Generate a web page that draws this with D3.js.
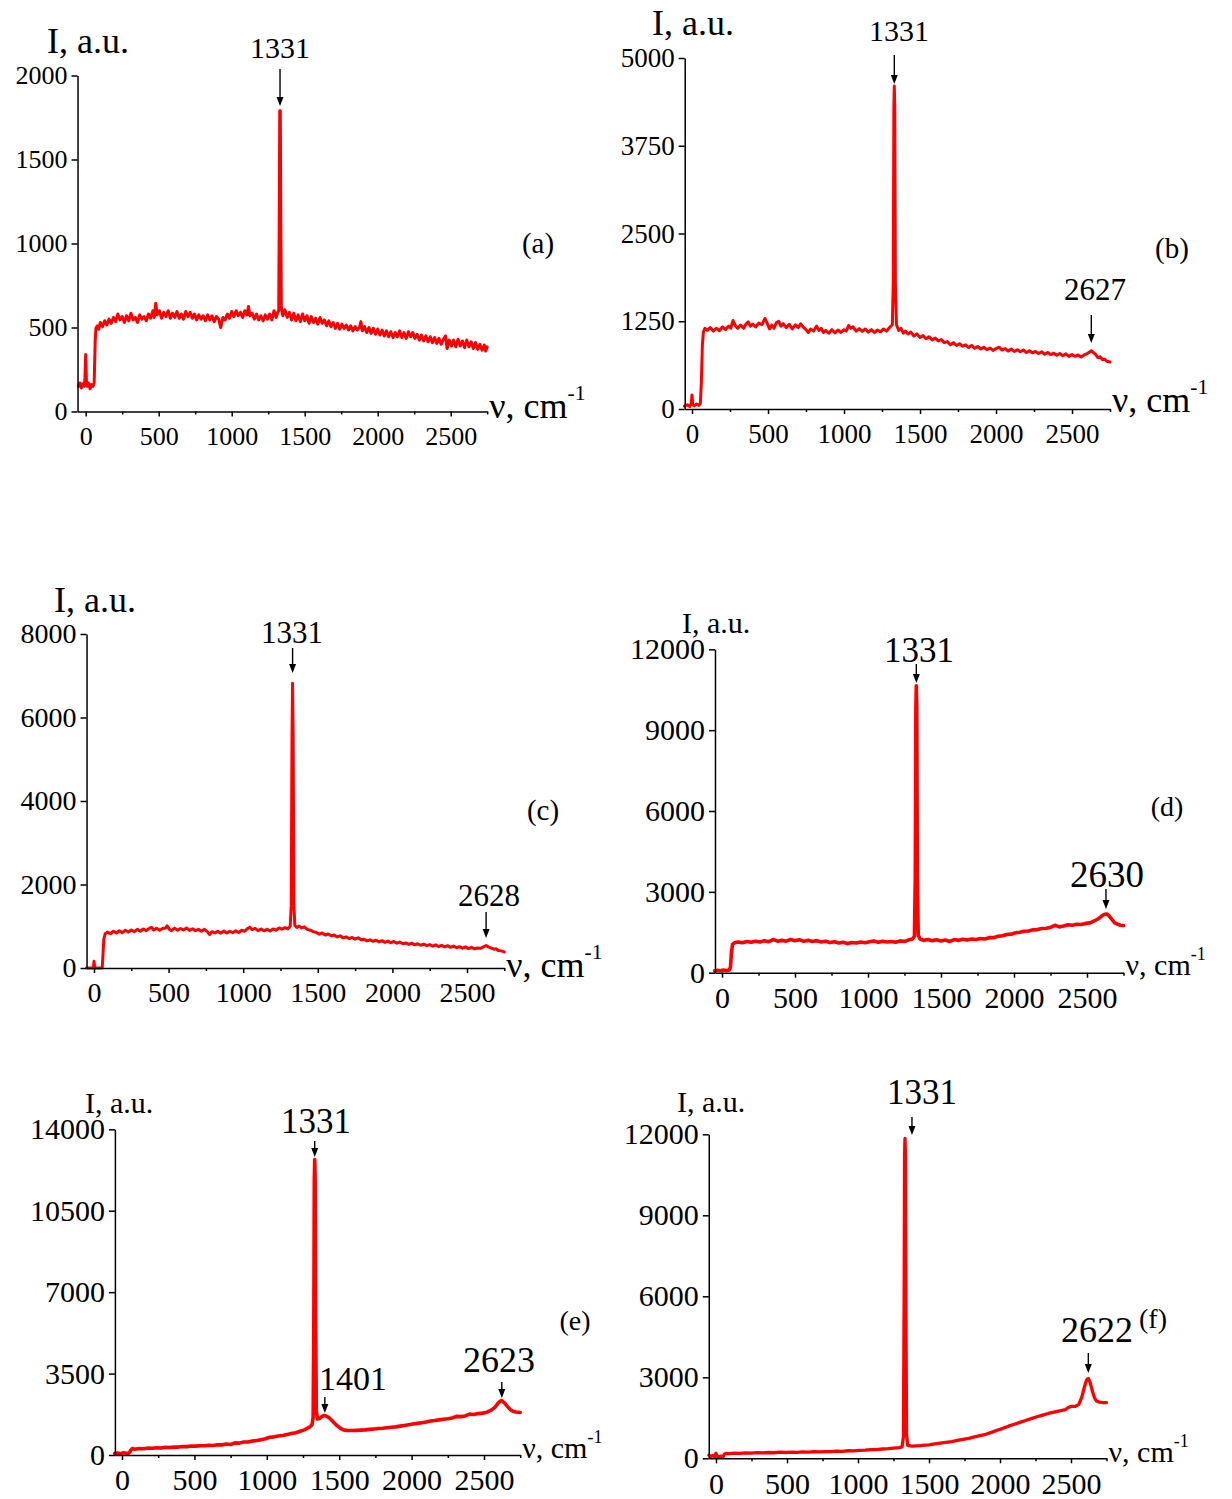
<!DOCTYPE html>
<html><head><meta charset="utf-8">
<script src="https://cdn.jsdelivr.net/npm/d3@7"></script>
<style>
body{margin:0;background:#fff}
svg{display:block}
text{font-family:"Liberation Serif","Times New Roman",serif;fill:#000}
</style>
</head><body>
<svg id="chart" width="1232" height="1499"></svg>
<script>
// ---------------- DATA ----------------
const xTicks = [0, 500, 1000, 1500, 2000, 2500];
const xMinorTicks = [250, 750, 1250, 1750, 2250, 2750];
const yTicksA = [0, 500, 1000, 1500, 2000];
const yTicksB = [0, 1250, 2500, 3750, 5000];
const yTicksC = [0, 2000, 4000, 6000, 8000];
const yTicksD = [0, 3000, 6000, 9000, 12000];
const yTicksE = [0, 3500, 7000, 10500, 14000];
const yTicksF = [0, 3000, 6000, 9000, 12000];
const panelLabels = ["(a)", "(b)", "(c)", "(d)", "(e)", "(f)"];
const yTitleText = "I, a.u.";
const xTitleText = "\u03BD, cm";
const xTitleSup = "-1";

const peaksA = [{label: "1331", at: 1331}];
const peaksB = [{label: "1331", at: 1331}, {label: "2627", at: 2627}];
const peaksC = [{label: "1331", at: 1331}, {label: "2628", at: 2628}];
const peaksD = [{label: "1331", at: 1331}, {label: "2630", at: 2630}];
const peaksE = [{label: "1331", at: 1331}, {label: "1401", at: 1401}, {label: "2623", at: 2623}];
const peaksF = [{label: "1331", at: 1380}, {label: "2622", at: 2622}];

// spectra: [wavenumber cm-1, intensity a.u.]
const specA = [[-50,150],[-40,170],[-30,140],[-20,165],[-10,150],[-5,200],[0,340],[5,180],[10,150],[20,170],[30,135],[40,160],[50,150],[58,170],[65,420],[70,495],[80,510],[90,490],
[100,530],[115,505],[130,540],[145,515],[160,550],[175,525],[190,560],[205,535],[220,580],[235,545],[250,565],[265,530],[280,570],[295,540],[310,585],[325,545],[340,560],[355,530],[370,575],[385,550],[400,565],[415,540],[430,580],[445,555],[460,600],[470,560],[480,645],[490,575],[505,600],[520,555],[535,590],[550,565],[565,600],[580,555],[595,585],[610,560],[625,595],[640,555],[655,580],[670,550],[685,595],[700,565],[715,590],[730,555],[745,580],[760,545],[775,575],[790,550],[805,570],[820,540],[835,575],[850,545],[865,570],[880,535],[895,565],[910,550],[925,500],[940,560],[955,545],[970,580],[985,555],[1000,595],[1015,565],[1030,600],[1045,570],[1060,590],[1075,560],[1090,600],[1105,575],[1115,625],[1125,570],[1140,585],[1155,550],[1170,580],[1185,545],[1200,570],[1215,540],[1230,575],[1245,550],[1260,580],[1275,545],[1290,600],[1305,560],[1315,590],[1322,600],[1326,1200],[1329,1790],[1333,1790],[1336,1200],[1340,620],[1350,570],[1365,605],[1380,560],[1395,590],[1410,545],[1425,585],[1440,540],[1455,575],[1470,535],[1485,580],[1500,540],[1515,570],[1530,525],[1545,565],[1560,530],[1575,555],[1590,520],[1605,560],[1620,525],[1635,545],[1650,510],[1665,540],[1680,505],[1695,530],[1710,495],[1725,525],[1740,490],[1755,520],[1770,495],[1785,515],[1800,485],[1815,510],[1830,480],[1845,505],[1860,485],[1875,500],[1885,535],[1895,480],[1910,505],[1925,470],[1940,500],[1955,465],[1970,495],[1985,460],[2000,490],[2015,455],[2030,485],[2045,450],[2060,480],[2075,445],[2090,475],[2105,440],[2120,470],[2135,445],[2150,480],[2165,440],[2180,470],[2195,435],[2210,475],[2225,445],[2240,470],[2255,435],[2270,460],[2285,425],[2300,455],[2315,420],[2330,450],[2345,415],[2360,445],[2375,410],[2390,440],[2405,405],[2420,435],[2435,400],[2450,430],[2465,450],[2475,375],[2490,425],[2505,390],[2520,425],[2535,385],[2550,430],[2565,390],[2580,420],[2595,380],[2610,425],[2625,385],[2640,415],[2655,375],[2670,410],[2685,370],[2700,400],[2715,365],[2730,395],[2740,360],[2750,385]];

const specB = [[-50,40],[-30,60],[-15,35],[-5,80],[0,200],[5,60],[15,45],[30,70],[45,50],[55,80],[62,400],[68,900],[75,1100],[85,1150],
[100,1120],[120,1160],[140,1110],[160,1150],[180,1115],[200,1170],[220,1130],[240,1180],[255,1150],[270,1260],[285,1190],[300,1150],[320,1195],[340,1150],[355,1210],[370,1240],[385,1180],[400,1210],[420,1170],[440,1225],[460,1200],[480,1290],[495,1220],[510,1140],[525,1195],[540,1150],[555,1230],[570,1250],[585,1180],[600,1215],[620,1160],[640,1205],[660,1140],[680,1200],[700,1160],[715,1215],[730,1170],[750,1130],[765,1090],[780,1140],[800,1110],[820,1180],[835,1120],[850,1150],[865,1090],[880,1120],[900,1080],[920,1130],[940,1085],[960,1125],[980,1090],[1000,1130],[1015,1110],[1030,1190],[1045,1150],[1060,1170],[1080,1110],[1100,1145],[1120,1105],[1140,1140],[1160,1095],[1180,1130],[1200,1090],[1220,1125],[1240,1100],[1260,1140],[1280,1110],[1300,1160],[1318,1200],[1324,1800],[1328,4300],[1331,4600],[1334,4300],[1338,1800],[1345,1200],[1360,1120],[1375,1150],[1390,1080],[1405,1110],[1420,1070],[1440,1095],[1460,1040],[1480,1070],[1500,1020],[1520,1045],[1540,1000],[1560,1030],[1580,985],[1600,1010],[1620,970],[1640,990],[1660,945],[1680,960],[1700,915],[1720,945],[1740,905],[1760,930],[1780,895],[1800,915],[1820,875],[1840,905],[1860,865],[1880,890],[1900,855],[1920,880],[1940,845],[1960,870],[1980,835],[2000,860],[2020,880],[2040,840],[2060,860],[2080,825],[2100,855],[2120,820],[2140,845],[2160,815],[2180,840],[2200,805],[2220,830],[2240,800],[2260,820],[2280,790],[2300,815],[2320,780],[2340,805],[2360,775],[2380,795],[2400,765],[2420,790],[2440,760],[2460,785],[2480,750],[2500,775],[2520,750],[2540,770],[2560,740],[2580,770],[2600,790],[2615,810],[2627,830],[2640,805],[2655,780],[2670,730],[2685,745],[2700,705],[2715,710],[2730,680],[2750,670]];

const specC = [[-50,0],[-20,0],[-8,0],[-3,40],[0,160],[4,40],[8,0],[30,0],[55,0],[60,300],[66,700],[75,820],
[90,860],[110,820],[130,880],[150,840],[170,890],[190,845],[210,905],[230,860],[250,910],[270,870],[290,925],[310,880],[330,935],[350,895],[370,950],[385,975],[400,910],[420,950],[440,905],[460,945],[480,960],[490,1010],[505,930],[520,895],[540,955],[560,905],[580,945],[600,910],[620,960],[640,900],[660,940],[680,895],[700,925],[720,880],[740,925],[760,870],[775,800],[790,870],[810,840],[830,880],[850,835],[870,885],[890,840],[910,880],[930,845],[950,890],[970,850],[990,905],[1010,880],[1030,950],[1045,975],[1060,920],[1080,950],[1100,895],[1120,935],[1140,890],[1160,925],[1180,885],[1200,935],[1220,905],[1240,960],[1260,930],[1280,965],[1300,940],[1315,1000],[1322,1500],[1327,5500],[1331,6820],[1335,5500],[1340,1500],[1346,1020],[1360,970],[1375,1005],[1390,960],[1410,985],[1430,925],[1450,905],[1470,870],[1490,850],[1510,810],[1530,840],[1550,790],[1570,815],[1590,770],[1610,790],[1630,745],[1650,770],[1670,720],[1690,745],[1710,705],[1730,730],[1750,690],[1770,725],[1790,675],[1810,690],[1830,650],[1850,675],[1870,640],[1890,665],[1910,625],[1930,655],[1950,615],[1970,645],[1990,605],[2010,635],[2030,595],[2050,620],[2070,580],[2090,600],[2110,565],[2130,595],[2150,555],[2170,580],[2190,545],[2210,570],[2230,535],[2250,560],[2270,525],[2290,555],[2310,515],[2330,540],[2350,505],[2370,535],[2390,495],[2410,525],[2430,485],[2450,510],[2470,475],[2490,505],[2510,465],[2530,495],[2550,460],[2570,480],[2590,470],[2610,505],[2628,540],[2645,500],[2660,480],[2680,450],[2695,460],[2710,420],[2730,410],[2750,385]];

const specD = [[-50,70],[-30,90],[-10,70],[10,100],[30,80],[50,100],[58,200],[64,700],[72,1050],[85,1110],
[110,1140],[140,1110],[170,1160],[200,1130],[230,1170],[260,1140],[290,1190],[320,1150],[350,1230],[380,1170],[410,1200],[440,1170],[470,1230],[500,1190],[530,1220],[560,1170],[590,1200],[620,1160],[650,1190],[680,1140],[710,1170],[740,1120],[770,1150],[800,1100],[830,1130],[860,1080],[890,1120],[920,1100],[950,1140],[980,1110],[1010,1150],[1040,1180],[1070,1130],[1100,1170],[1130,1140],[1160,1160],[1190,1130],[1220,1180],[1250,1160],[1280,1220],[1305,1250],[1318,1350],[1324,3500],[1328,9800],[1331,10650],[1334,9800],[1338,3500],[1344,1400],[1355,1260],[1380,1200],[1410,1230],[1440,1190],[1470,1220],[1500,1180],[1530,1210],[1560,1160],[1590,1230],[1620,1200],[1650,1240],[1680,1210],[1710,1250],[1740,1230],[1770,1270],[1800,1250],[1830,1300],[1860,1300],[1890,1350],[1920,1370],[1950,1420],[1980,1430],[2010,1480],[2040,1500],[2070,1540],[2100,1550],[2130,1590],[2160,1600],[2190,1640],[2220,1650],[2250,1680],[2280,1760],[2310,1700],[2340,1730],[2370,1780],[2400,1760],[2430,1800],[2460,1790],[2490,1830],[2520,1850],[2550,1920],[2580,2010],[2600,2100],[2620,2170],[2635,2180],[2650,2120],[2670,1980],[2690,1850],[2710,1800],[2730,1760],[2750,1750]];

const specE = [[-50,60],[-30,90],[-10,50],[10,100],[30,70],[50,90],[60,200],[70,280],[90,250],
[120,280],[150,270],[180,300],[210,290],[240,310],[270,300],[300,330],[330,320],[360,345],[390,340],[420,365],[450,360],[480,385],[510,380],[540,400],[570,395],[600,420],[630,410],[660,440],[690,435],[720,470],[750,450],[780,520],[810,510],[840,560],[870,560],[900,600],[930,620],[960,660],[990,700],[1020,760],[1050,780],[1080,820],[1110,840],[1140,880],[1170,920],[1200,960],[1230,1020],[1260,1080],[1280,1150],[1300,1220],[1312,1300],[1320,1600],[1325,6000],[1328,11800],[1331,12700],[1334,11800],[1337,6000],[1342,1900],[1350,1550],[1365,1580],[1380,1650],[1395,1700],[1410,1680],[1430,1600],[1450,1480],[1470,1350],[1490,1240],[1510,1140],[1530,1080],[1560,1050],[1590,1050],[1620,1060],[1650,1070],[1680,1080],[1710,1100],[1740,1120],[1770,1140],[1800,1150],[1830,1170],[1860,1190],[1890,1210],[1920,1240],[1950,1270],[1980,1300],[2010,1330],[2040,1360],[2070,1390],[2100,1420],[2130,1460],[2160,1480],[2190,1510],[2220,1540],[2250,1560],[2280,1590],[2310,1660],[2340,1650],[2370,1680],[2400,1760],[2430,1740],[2460,1780],[2490,1800],[2520,1840],[2550,1930],[2575,2050],[2600,2250],[2620,2340],[2640,2250],[2660,2100],[2680,1960],[2700,1880],[2720,1850],[2750,1830]];

const specF = [[-50,120],[-35,70],[-20,100],[-10,60],[0,190],[8,70],[20,50],[35,80],[50,60],[60,160],[70,180],[90,170],
[130,190],[170,180],[210,200],[250,190],[290,210],[330,200],[370,215],[410,205],[450,225],[490,215],[530,230],[570,220],[610,240],[650,230],[690,245],[730,235],[770,250],[810,245],[850,265],[890,260],[930,280],[970,275],[1010,295],[1050,300],[1090,320],[1130,325],[1170,345],[1210,355],[1250,375],[1290,395],[1310,420],[1320,800],[1325,6000],[1328,11200],[1331,11850],[1334,11200],[1337,6000],[1342,900],[1350,480],[1380,450],[1410,460],[1440,470],[1470,490],[1500,500],[1540,530],[1580,560],[1620,590],[1660,620],[1700,660],[1740,700],[1780,740],[1820,790],[1860,840],[1900,890],[1940,960],[1980,1040],[2020,1110],[2060,1190],[2100,1260],[2140,1330],[2180,1400],[2220,1470],[2260,1540],[2300,1600],[2340,1660],[2380,1710],[2420,1760],[2460,1800],[2480,1880],[2500,1920],[2530,1920],[2555,2000],[2575,2250],[2595,2650],[2610,2900],[2622,2960],[2635,2800],[2650,2500],[2665,2250],[2680,2120],[2700,2080],[2730,2060],[2750,2060]];

// ---------------- LAYOUT ----------------
const panels = [
  {spec: specA, yTicks: yTicksA, peaks: peaksA, label: panelLabels[0], sw: 3,
   x0: 85.7, px500: 73, xMin: -56, y0: 411.5, yTop: 75.5,
   tickFs: 26, xPad: 10.5, yTitle: [47, 53], titleFs: 36, xTitleBase: 418, xTitleFs: 36,
   labelPos: [538, 253], labelFs: 29,
   ann: [{tx: 280, ty: 58, fs: 30, y1: 69, y2: 106}]},
  {spec: specB, yTicks: yTicksB, peaks: peaksB, label: panelLabels[1], sw: 3,
   x0: 692, px500: 76, xMin: -48, y0: 409, yTop: 58,
   tickFs: 27, xPad: 10, yTitle: [652, 35], titleFs: 36, xTitleBase: 412, xTitleFs: 36,
   labelPos: [1172, 258], labelFs: 29,
   ann: [{tx: 899, ty: 41, fs: 30, y1: 55, y2: 84}, {tx: 1095, ty: 300, fs: 31, y1: 315, y2: 343}]},
  {spec: specC, yTicks: yTicksC, peaks: peaksC, label: panelLabels[2], sw: 3,
   x0: 94, px500: 74.6, xMin: -50, y0: 968, yTop: 634,
   tickFs: 28, xPad: 9, yTitle: [54, 612], titleFs: 36, xTitleBase: 977, xTitleFs: 36,
   labelPos: [543, 820], labelFs: 29,
   ann: [{tx: 292, ty: 643, fs: 31, y1: 648, y2: 673}, {tx: 489, ty: 906, fs: 31, y1: 912, y2: 938}]},
  {spec: specD, yTicks: yTicksD, peaks: peaksD, label: panelLabels[3], sw: 3.6,
   x0: 722, px500: 73, xMin: -48, y0: 972.7, yTop: 649.3,
   tickFs: 30, xPad: 9, yTitle: [682, 633], titleFs: 30, xTitleBase: 975, xTitleFs: 30,
   labelPos: [1167, 816], labelFs: 28,
   ann: [{tx: 919, ty: 662, fs: 35, y1: 664, y2: 683}, {tx: 1107, ty: 887, fs: 37, y1: 889, y2: 909}]},
  {spec: specE, yTicks: yTicksE, peaks: peaksE, label: panelLabels[4], sw: 3.6,
   x0: 122, px500: 72.4, xMin: -49, y0: 1455, yTop: 1129.3,
   tickFs: 30, xPad: 9, yTitle: [85, 1113], titleFs: 30, xTitleBase: 1458, xTitleFs: 30,
   labelPos: [575, 1330], labelFs: 28,
   ann: [{tx: 316, ty: 1133, fs: 35, y1: 1141, y2: 1157}, {tx: 353, ty: 1390, fs: 34, y1: 1397, y2: 1413}, {tx: 499, ty: 1372, fs: 36, y1: 1382, y2: 1398}]},
  {spec: specF, yTicks: yTicksF, peaks: peaksF, label: panelLabels[5], sw: 3.3,
   x0: 716, px500: 71, xMin: -51, y0: 1458.3, yTop: 1134.3,
   tickFs: 30, xPad: 9, yTitle: [677, 1112], titleFs: 30, xTitleBase: 1462, xTitleFs: 30,
   labelPos: [1153, 1328], labelFs: 28,
   ann: [{tx: 922, ty: 1104, fs: 35, y1: 1117, y2: 1135}, {tx: 1097, ty: 1342, fs: 36, y1: 1353, y2: 1373}]}
];

const svg = d3.select("#chart");
const xMax = 2750;

panels.forEach(p => {
  const k = p.px500 / 500;
  const x = d3.scaleLinear().domain([p.xMin, xMax]).range([p.x0 + p.xMin * k, p.x0 + xMax * k]);
  const yMax = p.yTicks[p.yTicks.length - 1];
  const y = d3.scaleLinear().domain([0, yMax]).range([p.y0, p.yTop]);
  const g = svg.append("g");

  // spectrum
  g.append("path").datum(p.spec)
    .attr("fill", "none").attr("stroke", "#ff0000").attr("stroke-width", p.sw)
    .attr("stroke-linejoin", "round").attr("stroke-linecap", "round")
    .attr("d", d3.line().x(d => x(d[0])).y(d => y(d[1])));

  // x axis
  const xa = g.append("g").attr("transform", `translate(0,${p.y0})`)
    .call(d3.axisBottom(x).tickValues(xTicks).tickSize(5).tickSizeOuter(0).tickPadding(p.xPad).tickFormat(d3.format("d")));
  const xm = g.append("g").attr("transform", `translate(0,${p.y0})`)
    .call(d3.axisBottom(x).tickValues(xMinorTicks).tickSize(3).tickFormat(""));
  xm.select(".domain").remove();

  // y axis
  const ya = g.append("g").attr("transform", `translate(${x(p.xMin)},0)`)
    .call(d3.axisLeft(y).tickValues(p.yTicks).tickSize(6).tickSizeOuter(0).tickPadding(4).tickFormat(d3.format("d")));

  [xa, xm, ya].forEach(a => {
    a.selectAll("path,line").attr("stroke", "#000").attr("stroke-width", 1.5);
    a.selectAll("text").attr("font-size", p.tickFs).attr("font-family", '"Liberation Serif","Times New Roman",serif').attr("fill", "#000");
  });

  // y title
  g.append("text").attr("x", p.yTitle[0]).attr("y", p.yTitle[1])
    .attr("font-size", p.titleFs).text(yTitleText);

  // x title
  const xt = g.append("text").attr("x", x(xMax) + 2).attr("y", p.xTitleBase)
    .attr("font-size", p.xTitleFs);
  xt.append("tspan").text(xTitleText);
  xt.append("tspan").attr("font-size", p.xTitleFs * 0.6).attr("dy", -p.xTitleFs * 0.5).text(xTitleSup);

  // panel label
  g.append("text").attr("x", p.labelPos[0]).attr("y", p.labelPos[1])
    .attr("text-anchor", "middle").attr("font-size", p.labelFs).text(p.label);

  // peak annotations
  p.peaks.forEach((pk, i) => {
    const a = p.ann[i];
    const ax = x(pk.at);
    g.append("text").attr("x", a.tx).attr("y", a.ty).attr("text-anchor", "middle")
      .attr("font-size", a.fs).text(pk.label);
    g.append("line").attr("x1", ax).attr("x2", ax).attr("y1", a.y1).attr("y2", a.y2 - 7)
      .attr("stroke", "#000").attr("stroke-width", 1.4);
    g.append("path")
      .attr("d", `M${ax - 3.5},${a.y2 - 9}L${ax + 3.5},${a.y2 - 9}L${ax},${a.y2}Z`)
      .attr("fill", "#000");
  });
});
</script>
</body></html>
